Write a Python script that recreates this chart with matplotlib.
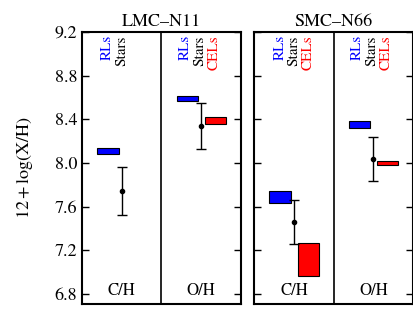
import numpy as np
import matplotlib.pyplot as plt

plt.rcParams['font.family'] = 'serif'
plt.rcParams['font.serif'] = ['STIXGeneral', 'Liberation Serif', 'DejaVu Serif']
plt.rcParams['mathtext.fontset'] = 'stix'

regions = ['LMC\u2013N11', 'SMC\u2013N66']
elements = ['C/H', 'O/H']

# RL boxes: (low, high) per element
rl_lo = [[8.08, 8.57], [7.63, 8.32]]
rl_hi = [[8.14, 8.61], [7.74, 8.38]]
# stars: value and error per element
star_val = [[7.74, 8.34], [7.46, 8.04]]
star_err = [[0.22, 0.21], [0.20, 0.20]]
# CEL boxes (None where missing)
cel_lo = [[None, 8.36], [6.97, 7.98]]
cel_hi = [[None, 8.42], [7.27, 8.02]]
# which labels to show per panel section
labels_show = [[['RLs', 'Stars'], ['RLs', 'Stars', 'CELs']],
               [['RLs', 'Stars', 'CELs'], ['RLs', 'Stars', 'CELs']]]
label_col = {'RLs': 'blue', 'Stars': 'black', 'CELs': 'red'}
label_dx = {'RLs': 0.32, 'Stars': 0.5, 'CELs': 0.68}

fig = plt.figure(figsize=(4.14, 3.11), dpi=100)
ax1 = fig.add_axes([0.198, 0.0225, 0.384, 0.875])
ax2 = fig.add_axes([0.614, 0.0225, 0.384, 0.875])
axes = [ax1, ax2]

for r, ax in enumerate(axes):
    for e in range(2):
        x0 = e
        lo, hi = rl_lo[r][e], rl_hi[r][e]
        ax.bar(x0 + 0.19, hi - lo, width=0.27, bottom=lo, align='edge',
               color='blue', edgecolor='black', linewidth=0.8, zorder=3)
        if cel_lo[r][e] is not None:
            clo, chi = cel_lo[r][e], cel_hi[r][e]
            ax.bar(x0 + 0.55, chi - clo, width=0.26, bottom=clo, align='edge',
                   color='red', edgecolor='black', linewidth=0.8, zorder=3)
        ax.errorbar(x0 + 0.5, star_val[r][e], yerr=star_err[r][e], fmt='o',
                    color='black', ms=3, capsize=3.5, elinewidth=1, capthick=1,
                    zorder=4)
        for k, lab in enumerate(labels_show[r][e]):
            ax.text(x0 + label_dx[lab] - (0.02 if e == 1 else 0), 9.17, lab,
                    rotation=90, ha='center', va='top', fontsize=11,
                    color=label_col[lab])
        ax.text(x0 + 0.5, 6.76, elements[e], ha='center', va='bottom', fontsize=12)
    ax.axvline(1, color='black', lw=1.2)
    ax.set_xlim(0, 2)
    ax.set_ylim(6.71, 9.2)
    ax.set_xticks([])
    ax.set_yticks(np.arange(6.8, 9.21, 0.4))
    ax.tick_params(axis='y', direction='in', left=True, right=True, length=5,
                   width=1, labelsize=13)
    for s in ax.spines.values():
        s.set_linewidth(1.5)
    ax.set_title(regions[r], fontsize=13, pad=4)

ax1.set_yticklabels(['%.1f' % v for v in np.arange(6.8, 9.21, 0.4)])
ax2.set_yticklabels([])
ax1.set_ylabel(r'$12+\log({\rm X/H})$', fontsize=13, labelpad=14)

fig.savefig('out.png', dpi=100)
